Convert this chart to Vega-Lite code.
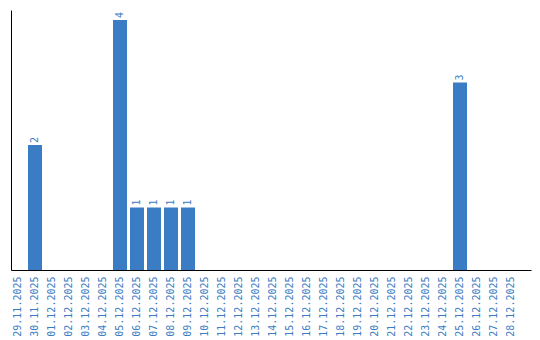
{
  "$schema": "https://vega.github.io/schema/vega-lite/v6.json",
  "autosize": "none",
  "width": 520,
  "height": 260,
  "padding": {"left": 11, "top": 10, "right": 9, "bottom": 70},
  "background": "white",
  "config": {"view": {"stroke": null}},
  "data": {"values": [
    {"date": "29.11.2025", "count": 0},
    {"date": "30.11.2025", "count": 2},
    {"date": "01.12.2025", "count": 0},
    {"date": "02.12.2025", "count": 0},
    {"date": "03.12.2025", "count": 0},
    {"date": "04.12.2025", "count": 0},
    {"date": "05.12.2025", "count": 4},
    {"date": "06.12.2025", "count": 1},
    {"date": "07.12.2025", "count": 1},
    {"date": "08.12.2025", "count": 1},
    {"date": "09.12.2025", "count": 1},
    {"date": "10.12.2025", "count": 0},
    {"date": "11.12.2025", "count": 0},
    {"date": "12.12.2025", "count": 0},
    {"date": "13.12.2025", "count": 0},
    {"date": "14.12.2025", "count": 0},
    {"date": "15.12.2025", "count": 0},
    {"date": "16.12.2025", "count": 0},
    {"date": "17.12.2025", "count": 0},
    {"date": "18.12.2025", "count": 0},
    {"date": "19.12.2025", "count": 0},
    {"date": "20.12.2025", "count": 0},
    {"date": "21.12.2025", "count": 0},
    {"date": "22.12.2025", "count": 0},
    {"date": "23.12.2025", "count": 0},
    {"date": "24.12.2025", "count": 0},
    {"date": "25.12.2025", "count": 3},
    {"date": "26.12.2025", "count": 0},
    {"date": "27.12.2025", "count": 0},
    {"date": "28.12.2025", "count": 0}
  ]},
  "encoding": {
    "x": {
      "field": "date", "type": "nominal", "sort": null,
      "scale": {"paddingInner": 0.1765, "paddingOuter": 0.382, "align": 0},
      "axis": {
        "title": null, "ticks": false, "labelAngle": -90, "labelAlign": "right", "labelBaseline": "middle",
        "labelPadding": 6, "labelFont": "DejaVu Sans Mono", "labelFontSize": 10, "labelColor": "#3b7dc4",
        "domainColor": "#000000", "domainWidth": 1, "labelOverlap": false
      }
    },
    "y": {
      "field": "count", "type": "quantitative",
      "scale": {"domain": [0, 4.16], "nice": false, "zero": true},
      "axis": {"title": null, "ticks": false, "labels": false, "grid": false, "domainColor": "#000000", "domainWidth": 1}
    }
  },
  "layer": [
    {"mark": {"type": "bar", "color": "#3b7dc4"}},
    {
      "transform": [{"filter": "datum.count > 0"}],
      "mark": {"type": "text", "angle": -90, "align": "left", "baseline": "middle", "dx": 2, "font": "DejaVu Sans Mono", "fontSize": 10, "color": "#3b7dc4"},
      "encoding": {"text": {"field": "count", "type": "quantitative"}}
    }
  ]
}
